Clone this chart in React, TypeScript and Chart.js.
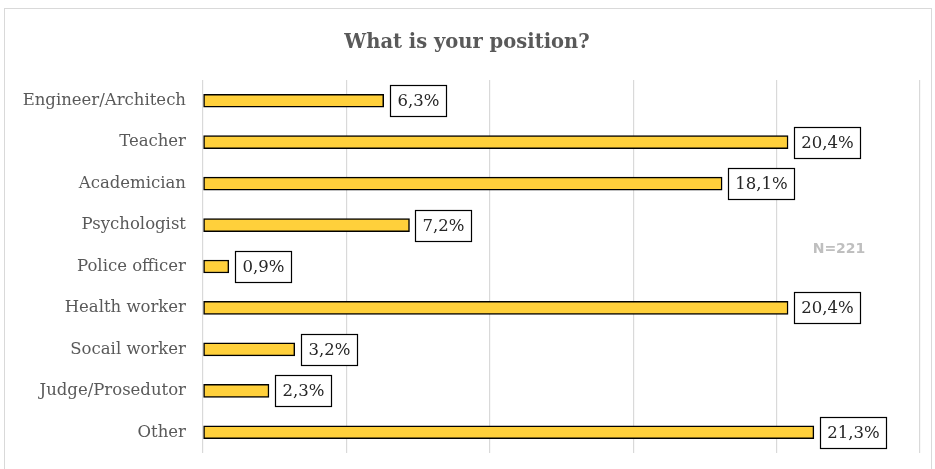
import React, { useEffect, useRef } from "react";
import { Chart, registerables } from "chart.js";

Chart.register(...registerables);

const categories = [
  "Engineer/Architech",
  "Teacher",
  "Academician",
  "Psychologist",
  "Police officer",
  "Health worker",
  "Socail worker",
  "Judge/Prosedutor",
  "Other",
];
const values = [6.3, 20.4, 18.1, 7.2, 0.9, 20.4, 3.2, 2.3, 21.3];
const titleText = "What is your position?";
const noteText = "N=221";
const xMax = 25;
const xStep = 5;

const SERIF = "'DejaVu Serif', 'Liberation Serif', serif";

const overlayPlugin = {
  id: "overlay",
  afterDatasetsDraw(chart: any) {
    const ctx = chart.ctx;
    const meta = chart.getDatasetMeta(0);
    ctx.save();
    ctx.font = `16.5px ${SERIF}`;
    ctx.textBaseline = "middle";
    ctx.textAlign = "center";
    meta.data.forEach((el: any, i: number) => {
      const txt = values[i].toFixed(1).replace(".", ",") + "%";
      const tw = ctx.measureText(txt).width;
      const w = Math.round(tw + 14);
      const h = 31;
      const x0 = Math.round(el.x + 6) + 0.5;
      const y0 = Math.round(el.y - h / 2) + 0.5;
      ctx.fillStyle = "#ffffff";
      ctx.fillRect(x0, y0, w, h);
      ctx.strokeStyle = "#000000";
      ctx.lineWidth = 1.2;
      ctx.strokeRect(x0, y0, w, h);
      ctx.fillStyle = "#262626";
      ctx.fillText(txt, x0 + w / 2, y0 + h / 2 + 1);
    });
    // title
    ctx.font = `bold 19.5px ${SERIF}`;
    ctx.fillStyle = "#595959";
    ctx.fillText(titleText, 467, 43);
    // note
    ctx.font = "bold 14px 'DejaVu Sans', sans-serif";
    ctx.fillStyle = "#bfbfbf";
    ctx.fillText(noteText, 839, 249);
    ctx.restore();
  },
};

export default function App() {
  const ref = useRef<HTMLCanvasElement>(null);
  useEffect(() => {
    if (!ref.current) return;
    const chart = new Chart(ref.current, {
      type: "bar",
      data: {
        labels: categories,
        datasets: [
          {
            data: values,
            backgroundColor: "#FFD03B",
            borderColor: "#000000",
            borderWidth: 1.5,
            barThickness: 13,
            borderSkipped: false,
          },
        ],
      },
      options: {
        indexAxis: "y",
        responsive: false,
        maintainAspectRatio: false,
        animation: false,
        devicePixelRatio: 1,
        layout: { padding: { left: 0, right: 15, top: 80, bottom: 16 } },
        plugins: {
          legend: { display: false },
          title: { display: false },
          tooltip: { enabled: false },
        },
        scales: {
          x: {
            min: 0,
            max: xMax,
            ticks: { display: false, stepSize: xStep },
            grid: { color: "#d9d9d9", lineWidth: 1.2, drawTicks: false },
            border: { display: false },
            afterFit: (s: any) => {
              s.height = 0;
              s.paddingLeft = 0;
              s.paddingRight = 0;
            },
          },
          y: {
            ticks: {
              color: "#595959",
              font: { family: SERIF, size: 16.5 },
              padding: 17,
            },
            grid: { display: false, drawTicks: false },
            border: { display: false },
            afterFit: (s: any) => {
              s.width = 203;
              s.paddingTop = 0;
              s.paddingBottom = 0;
            },
          },
        },
      },
      plugins: [overlayPlugin],
    });
    return () => chart.destroy();
  }, []);
  return (
    <div style={{ position: "absolute", left: 0, top: 0, width: 935, height: 469, background: "#fff" }}>
      <div
        style={{
          position: "absolute",
          left: 4,
          top: 8,
          width: 928,
          height: 470,
          border: "1px solid #d9d9d9",
          boxSizing: "border-box",
        }}
      />
      <canvas ref={ref} width={935} height={469} style={{ position: "absolute", left: 0, top: 0, width: 935, height: 469 }} />
    </div>
  );
}
